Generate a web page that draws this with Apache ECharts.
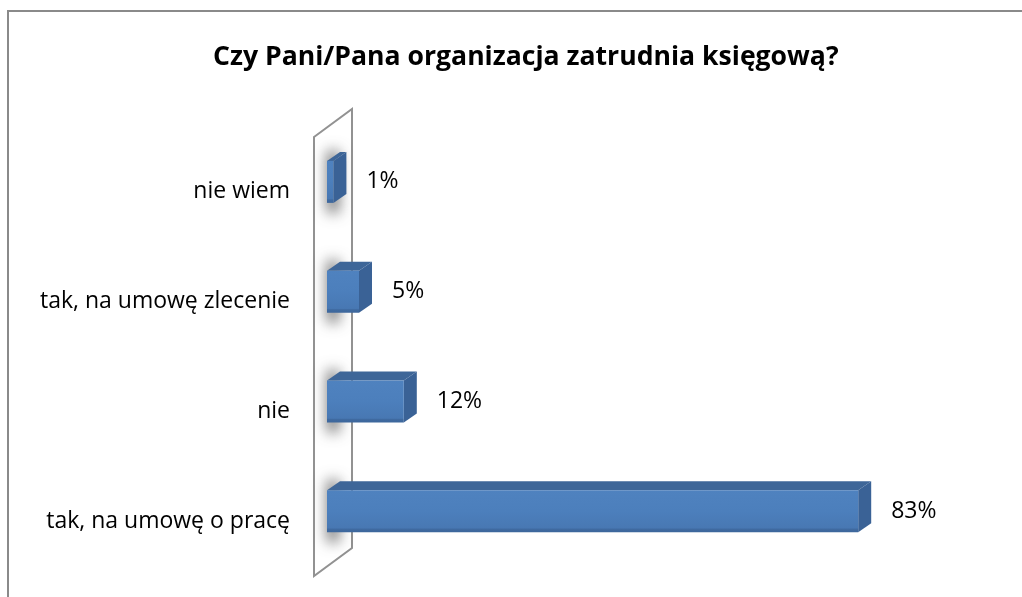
<!DOCTYPE html>
<html>
<head>
<meta charset="utf-8">
<script src="https://cdn.jsdelivr.net/npm/echarts@6/dist/echarts.min.js"></script>
<style>
  html, body { margin: 0; padding: 0; background: #fff; }
  #chart { width: 1022px; height: 597px; }
</style>
</head>
<body>
<div id="chart"></div>
<script>
const title = "Czy Pani/Pana organizacja zatrudnia księgową?";
const categories = ["tak, na umowę o pracę", "nie", "tak, na umowę zlecenie", "nie wiem"];
const values = [83, 12, 5, 1];

const GRID_LEFT = 327, GRID_TOP = 137, GRID_BOTTOM = 21, GRID_RIGHT = 55;
const H = 597;
const DX = 13, DY = 9, BAR_H = 42, BAR_SHIFT = -10;

const chart = echarts.init(document.getElementById("chart"), null, { renderer: "canvas" });

function renderBar(params, api) {
  const cat = api.value(1);
  const start = api.coord([0, cat]);
  const end = api.coord([api.value(0), cat]);
  const x0 = start[0], x1 = end[0];
  const cy = start[1] + BAR_SHIFT;
  const y0 = cy - BAR_H / 2, y1 = cy + BAR_H / 2;
  return {
    type: "group",
    children: [
      {
        // soft shadow on the wall behind the bar (shape moved off-canvas, only its blur shown)
        type: "rect",
        shape: { x: x0 - 3000, y: y0 - 10, width: 12, height: BAR_H + 20 },
        style: {
          fill: "#777",
          shadowBlur: 14,
          shadowColor: "rgba(70,70,70,0.75)",
          shadowOffsetX: 3000
        },
        z2: 0
      },
      {
        type: "polygon",
        shape: { points: [[x0, y0], [x0 + DX, y0 - DY], [x1 + DX, y0 - DY], [x1, y0]] },
        style: { fill: "#3e6698" },
        z2: 2
      },
      {
        type: "polygon",
        shape: { points: [[x1, y0], [x1 + DX, y0 - DY], [x1 + DX, y1 - DY], [x1, y1]] },
        style: { fill: "#3a6296" },
        z2: 2
      },
      {
        type: "rect",
        shape: { x: x0, y: y0, width: Math.max(x1 - x0, 1), height: BAR_H },
        style: {
          fill: new echarts.graphic.LinearGradient(0, 0, 0, 1, [
            { offset: 0, color: "#4f82bf" },
            { offset: 0.5, color: "#4c7fbc" },
            { offset: 0.9, color: "#4878b3" },
            { offset: 0.93, color: "#3f6aa0" },
            { offset: 1, color: "#3d679c" }
          ])
        },
        z2: 3
      },
      {
        type: "text",
        x: x1 + DX + 20,
        y: cy,
        style: {
          text: api.value(0) + "%",
          fill: "#000",
          font: "23px 'Open Sans'",
          verticalAlign: "middle"
        },
        z2: 4
      }
    ]
  };
}

const wallBottom = H - GRID_BOTTOM;
chart.setOption({
  animation: false,
  title: {
    text: title,
    left: 208,
    top: 39,
    textStyle: { fontFamily: "Open Sans", fontSize: 26.6, fontWeight: "bold", color: "#000" }
  },
  graphic: [
    {
      type: "rect",
      shape: { x: 8, y: 11, width: 1200, height: 800 },
      style: { fill: null, stroke: "#8a8a8a", lineWidth: 2 },
      silent: true
    },
    {
      type: "polygon",
      shape: {
        points: [
          [GRID_LEFT - 13, GRID_TOP],
          [GRID_LEFT + 25, GRID_TOP - 28],
          [GRID_LEFT + 25, wallBottom - 28],
          [GRID_LEFT - 13, wallBottom]
        ]
      },
      style: { fill: "#fff", stroke: "#929292", lineWidth: 2 },
      silent: true
    }
  ],
  grid: { left: GRID_LEFT, right: GRID_RIGHT, top: GRID_TOP, bottom: GRID_BOTTOM },
  xAxis: { type: "value", min: 0, max: 100, show: false },
  yAxis: {
    type: "category",
    data: categories,
    axisLine: { show: false },
    axisTick: { show: false },
    axisLabel: { color: "#000", fontFamily: "Open Sans", fontSize: 23, margin: 37 }
  },
  series: [{
    type: "custom",
    renderItem: renderBar,
    encode: { x: 0, y: 1 },
    data: values.map((v, i) => [v, i])
  }]
});
</script>
</body>
</html>
